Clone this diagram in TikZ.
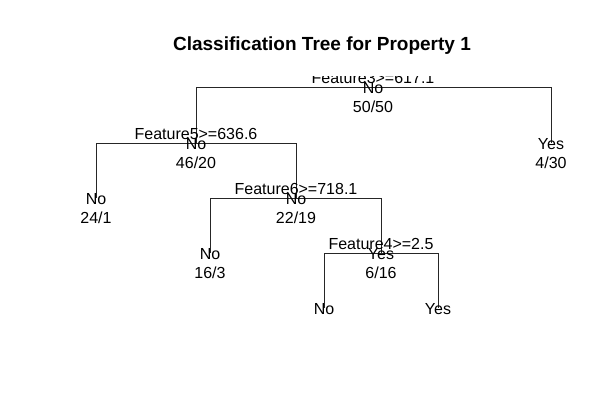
\documentclass[tikz,border=0pt]{standalone}
\usepackage{fontspec}
\setmainfont{Liberation Sans}
\usetikzlibrary{positioning}

\begin{document}
\begin{tikzpicture}[x=1pt, y=-1pt,
        lab/.style={anchor=base, inner sep=0pt, font=\fontsize{16}{18}\selectfont},
        branch/.style={draw=black!85, line width=0.9pt}]
    \useasboundingbox (0,0) rectangle (610,415);
    \node[anchor=base, inner sep=0pt, font=\bfseries\fontsize{19}{22}\selectfont] (title) at (322,50.5) {Classification Tree for Property 1};

    % Node positions
    \coordinate (n1) at (373,87);
    \coordinate (n2) at (196,143);
    \coordinate (n3) at (551,143);
    \coordinate (n4) at (96,198);
    \coordinate (n5) at (296,198);
    \coordinate (n10) at (210,253);
    \coordinate (n11) at (381,253);
    \coordinate (n22) at (324,308);
    \coordinate (n23) at (438,308);

    % Branches
    \draw[branch] (n2) -- (n2 |- n1) -- (n3 |- n1) -- (n3);
    \draw[branch] (n4) -- (n4 |- n2) -- (n5 |- n2) -- (n5);
    \draw[branch] (n10) -- (n10 |- n5) -- (n11 |- n5) -- (n11);
    \draw[branch] (n22) -- (n22 |- n11) -- (n23 |- n11) -- (n23);

    % Root split (clipped at the plot region)
    \begin{scope}
        \clip (0,76) rectangle (610,415);
        \node[lab] (s1) at ([yshift=4pt]n1) {Feature3>=617.1};
    \end{scope}
    \node[lab] (c1) at ([yshift=-6pt]n1) {No};
    \node[lab] (k1) at ([yshift=-25.5pt]n1) {50/50};

    % Second level
    \node[lab] (s2) at ([yshift=4pt]n2) {Feature5>=636.6};
    \node[lab] (c2) at ([yshift=-6pt]n2) {No};
    \node[lab] (k2) at ([yshift=-25.5pt]n2) {46/20};
    \node[lab] (c3) at ([yshift=-6pt]n3) {Yes};
    \node[lab] (k3) at ([yshift=-25.5pt]n3) {4/30};

    % Third level
    \node[lab] (c4) at ([yshift=-6pt]n4) {No};
    \node[lab] (k4) at ([yshift=-25.5pt]n4) {24/1};
    \node[lab] (s5) at ([yshift=4pt]n5) {Feature6>=718.1};
    \node[lab] (c5) at ([yshift=-6pt]n5) {No};
    \node[lab] (k5) at ([yshift=-25.5pt]n5) {22/19};

    % Fourth level
    \node[lab] (c10) at ([yshift=-6pt]n10) {No};
    \node[lab] (k10) at ([yshift=-25.5pt]n10) {16/3};
    \node[lab] (s11) at ([yshift=4pt]n11) {Feature4>=2.5};
    \node[lab] (c11) at ([yshift=-6pt]n11) {Yes};
    \node[lab] (k11) at ([yshift=-25.5pt]n11) {6/16};

    % Leaves
    \node[lab] (c22) at ([yshift=-6pt]n22) {No};
    \node[lab] (c23) at ([yshift=-6pt]n23) {Yes};
\end{tikzpicture}
\end{document}
